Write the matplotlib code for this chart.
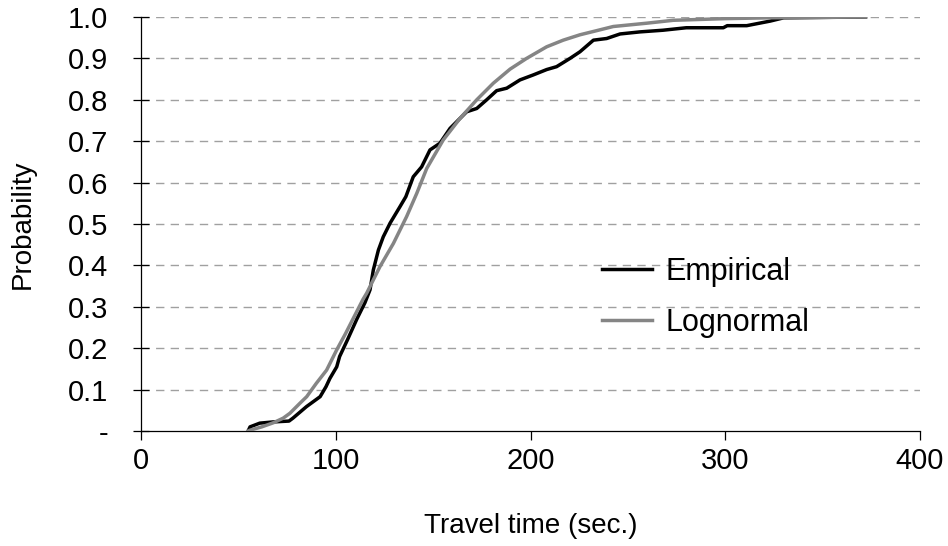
import matplotlib
matplotlib.use("Agg")
import matplotlib.pyplot as plt

plt.rcParams['font.family'] = ['Liberation Sans', 'DejaVu Sans']

# values
emp_x = [55, 56, 61, 68, 76, 78, 85, 92, 95, 97, 100.5, 102, 106, 110.8, 115,
         117.6, 119.3, 121.9, 124.4, 127.9, 133.0, 136, 139.8, 144.1, 148.4,
         153.5, 158.7, 163.8, 167.2, 172.4, 177.5, 182.6, 187.8, 194.6, 201.4,
         208.3, 213.4, 220.3, 225.4, 232.3, 239.1, 246.0, 256.2, 268, 280, 299,
         301, 311, 323, 330, 372]
emp_y = [0.0, 0.010, 0.019, 0.022, 0.024, 0.031, 0.059, 0.083, 0.107, 0.127,
         0.155, 0.18, 0.22, 0.27, 0.31, 0.341, 0.389, 0.437, 0.469, 0.502,
         0.542, 0.566, 0.614, 0.638, 0.679, 0.695, 0.731, 0.755, 0.771, 0.779,
         0.800, 0.822, 0.828, 0.848, 0.860, 0.873, 0.880, 0.900, 0.916, 0.944,
         0.948, 0.959, 0.964, 0.968, 0.974, 0.974, 0.979, 0.979, 0.990, 0.998,
         1.0]

logn_x = [55, 56, 62, 68, 73, 76.5, 81.6, 85.1, 90, 95.3, 100.5, 105, 109, 114,
          115.9, 122.7, 129.6, 136.4, 141.6, 146.7, 155.2, 163.8, 172.4, 180.9,
          189.5, 198.0, 208.3, 216.8, 225.4, 234.0, 242.5, 259.7, 273.3, 300,
          323, 372]
logn_y = [0.0, 0.002, 0.01, 0.02, 0.031, 0.043, 0.067, 0.083, 0.115, 0.147,
          0.196, 0.235, 0.272, 0.318, 0.333, 0.397, 0.453, 0.518, 0.574, 0.634,
          0.703, 0.755, 0.800, 0.840, 0.874, 0.900, 0.928, 0.944, 0.957, 0.967,
          0.977, 0.985, 0.992, 0.996, 0.998, 1.0]

yticks = [0, 0.1, 0.2, 0.3, 0.4, 0.5, 0.6, 0.7, 0.8, 0.9, 1.0]
ytick_labels = ['-', '0.1', '0.2', '0.3', '0.4', '0.5', '0.6', '0.7', '0.8', '0.9', '1.0']
xticks = [0, 100, 200, 300, 400]

fig = plt.figure(figsize=(9.48, 5.46), dpi=100)
ax = fig.add_axes([0.1487, 0.2106, 0.8218, 0.7583])

for yv in yticks[1:]:
    ax.axhline(yv, color='#a0a0a0', lw=1.0, dashes=(6, 4.5), zorder=1)

ax.plot(emp_x, emp_y, color='black', lw=2.5, label='Empirical', zorder=3)
ax.plot(logn_x, logn_y, color='#858585', lw=2.5, label='Lognormal', zorder=4)

ax.set_xlim(0, 400)
ax.set_ylim(0, 1.0)
ax.set_xticks(xticks)
ax.set_yticks(yticks)
ax.set_yticklabels(ytick_labels)

for s in ['top', 'right']:
    ax.spines[s].set_visible(False)
for s in ['left', 'bottom']:
    ax.spines[s].set_linewidth(0.9)

ax.tick_params(axis='y', direction='inout', length=11.5, width=0.9, pad=18, labelsize=21)
ax.tick_params(axis='x', direction='out', length=6.5, width=0.9, pad=5, labelsize=21)

ax.set_xlabel('Travel time (sec.)', fontsize=20)
ax.set_ylabel('Probability', fontsize=20)
ax.xaxis.set_label_coords(0.5, -0.197)
ax.yaxis.set_label_coords(-0.135, 0.5)

ax.legend(loc='center left', bbox_to_anchor=(0.592, 0.3225), frameon=False,
          fontsize=22, handlelength=1.64, handletextpad=0.43, labelspacing=0.69,
          borderpad=0, borderaxespad=0)

fig.savefig('out.png', dpi=100)
